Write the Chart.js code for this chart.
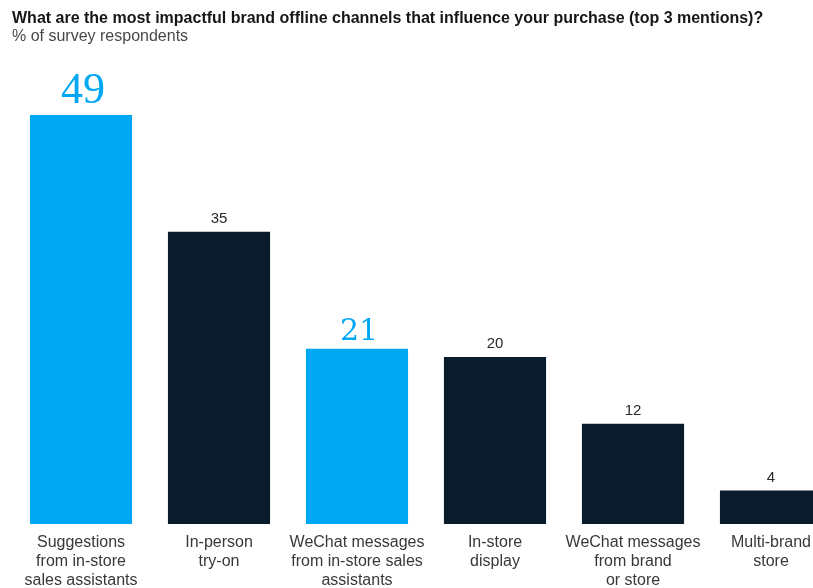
<!DOCTYPE html>
<html>
<head>
<meta charset="utf-8">
<title>Offline channels</title>
<script src="https://cdn.jsdelivr.net/npm/chart.js@4.4.1/dist/chart.umd.min.js"></script>
<style>
    html, body { margin: 0; padding: 0; background: #fff; overflow: hidden; }
    #wrap { position: relative; width: 813px; height: 588px; overflow: hidden; }
    #chart { position: absolute; left: 0; top: 0; }
    .title {
        position: absolute; left: 12px; top: 10px; white-space: nowrap; line-height: 16px;
        font-weight: bold; font-size: 16px; font-family: "Liberation Sans", Arial, sans-serif;
        color: #161616;
    }
    .subtitle {
        position: absolute; left: 12px; top: 28px; white-space: nowrap; line-height: 16px;
        font-size: 16px; font-family: "Liberation Sans", Arial, sans-serif;
        color: #484848;
    }
</style>
</head>
<body>
<div id="wrap">
    <canvas id="chart" width="850" height="599"></canvas>
    <div class="title">What are the most impactful brand offline channels that influence your purchase (top 3 mentions)?</div>
    <div class="subtitle">% of survey respondents</div>
</div>
<script>
// Данные опроса
const categories = [
    ['Suggestions', 'from in-store', 'sales assistants'],
    ['In-person', 'try-on'],
    ['WeChat messages', 'from in-store sales', 'assistants'],
    ['In-store', 'display'],
    ['WeChat messages', 'from brand', 'or store'],
    ['Multi-brand', 'store']
];
const values = [49, 35, 21, 20, 12, 4];
const highlighted = [true, false, true, false, false, false];

// Цвета и шрифты
const BLUE = '#00a8f3';
const NAVY = '#0a1b2b';
const calloutFonts = {
    0: '44px "Liberation Serif", "Times New Roman", serif',
    2: '30px "DejaVu Serif", serif'
};

const barColors = highlighted.map(h => h ? BLUE : NAVY);

// Подписи значений над столбиками
const valueLabels = {
    id: 'valueLabels',
    afterDatasetsDraw(chart) {
        const ctx = chart.ctx;
        const meta = chart.getDatasetMeta(0);
        ctx.save();
        ctx.textAlign = 'center';
        meta.data.forEach((bar, i) => {
            const v = chart.data.datasets[0].data[i];
            if (highlighted[i]) {
                ctx.fillStyle = BLUE;
                ctx.font = calloutFonts[i] || calloutFonts[2];
                ctx.textBaseline = 'alphabetic';
                ctx.fillText(v, bar.x + 2, bar.y - (i === 0 ? 12 : 9));
            } else {
                ctx.fillStyle = '#2a2a2a';
                ctx.font = '15px "Liberation Sans", Arial, sans-serif';
                ctx.textBaseline = 'middle';
                ctx.fillText(v, bar.x, bar.y - 13);
            }
        });
        ctx.restore();
    }
};

const ctx = document.getElementById('chart').getContext('2d');
new Chart(ctx, {
    type: 'bar',
    data: {
        labels: categories,
        datasets: [{
            data: values,
            backgroundColor: barColors,
            barPercentage: 0.74,
            categoryPercentage: 1
        }]
    },
    options: {
        responsive: false,
        animation: false,
        layout: { padding: { left: 12, right: 10, top: 115, bottom: 0 } },
        scales: {
            x: {
                grid: { display: false, drawTicks: false },
                border: { display: false },
                ticks: {
                    color: '#383838',
                    padding: 9,
                    maxRotation: 0,
                    autoSkip: false,
                    font: { family: '"Liberation Sans", Arial, sans-serif', size: 16, lineHeight: 1.19 }
                }
            },
            y: {
                display: false,
                min: 0,
                max: 49
            }
        },
        plugins: {
            legend: { display: false },
            tooltip: { enabled: false }
        }
    },
    plugins: [valueLabels]
});
</script>
</body>
</html>
